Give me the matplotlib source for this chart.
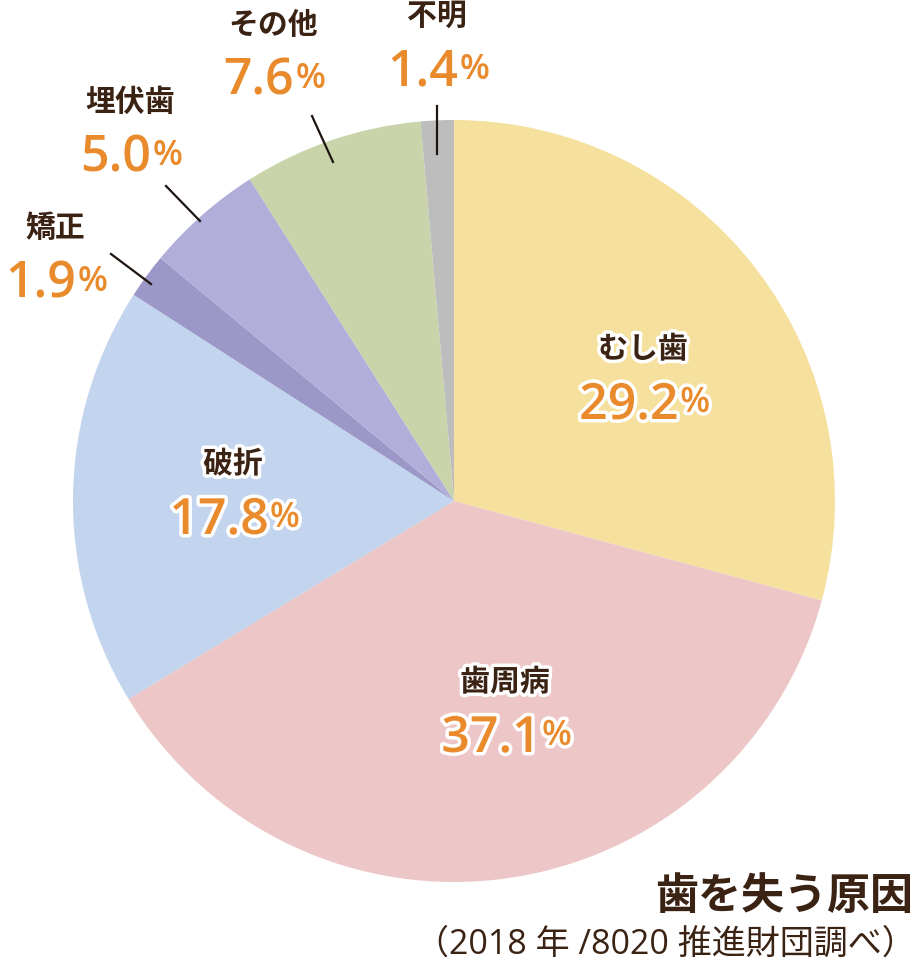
import matplotlib
matplotlib.use("Agg")
import matplotlib.pyplot as plt
import matplotlib.patheffects as pe

plt.rcParams['font.family'] = ['Noto Sans CJK JP', 'DejaVu Sans']

# data (clockwise from 12 o'clock)
labels = ["むし歯", "歯周病", "破折", "矯正", "埋伏歯", "その他", "不明"]
values = [29.2, 37.1, 17.8, 1.9, 5.0, 7.6, 1.4]
colors = ["#F5E09D", "#EDC7C7", "#C3D4EE", "#9B98C7", "#B1AFD9", "#C9D4AA", "#BDBDBD"]

# label positions in pixel coords (x, y of name; number goes below)
label_pos = [(643, 350), (505, 683), (233, 465), (55, 228), (130, 102), (273, 25), (437, 16)]
inside = [True, True, True, False, False, False, False]
# leader lines for outside labels (pixel coords)
leaders = {
    3: ((111, 255), (151, 285)),
    4: ((166, 187), (200, 222)),
    5: ((312, 117), (333, 163)),
    6: ((437, 107), (437, 155)),
}

W, H = 919, 978
BROWN = "#3B2314"
ORANGE = "#E98A2D"
NUM_FONT = ['Open Sans', 'Noto Sans CJK JP']

fig = plt.figure(figsize=(W / 100, H / 100), dpi=100)
ax = fig.add_axes([0, 0, 1, 1])


def py(y):
    return H - y


ax.pie(values, colors=colors, startangle=90, counterclock=False,
       center=(454, py(502)), radius=381, wedgeprops=dict(linewidth=0))
ax.set_xlim(0, W)
ax.set_ylim(0, H)
ax.set_aspect("equal")
ax.axis("off")

stroke = [pe.withStroke(linewidth=5, foreground="white")]

for i, (name, v) in enumerate(zip(labels, values)):
    x, y = label_pos[i]
    eff = stroke if inside[i] else None
    ax.text(x, py(y), name, ha="center", va="center", fontsize=21.5,
            fontweight="bold", color=BROWN, path_effects=eff)
    num = ax.text(x - 14, py(y + 70), f"{v:.1f}", ha="center", va="baseline",
                  fontsize=36, fontweight="semibold", family=NUM_FONT,
                  color=ORANGE, path_effects=eff)
    ax.annotate("%", xy=(1, 0), xycoords=num, xytext=(1, 8),
                textcoords="offset points", ha="left", va="bottom",
                fontsize=25, fontweight="semibold", family=NUM_FONT,
                color=ORANGE, path_effects=eff)

for (x0, y0), (x1, y1) in leaders.values():
    ax.plot([x0, x1], [py(y0), py(y1)], color="#1E1410", lw=1.6)

ax.text(913, py(896), "歯を失う原因", ha="right", va="center", fontsize=31,
        fontweight="bold", color=BROWN)
ax.text(916, py(945), "（2018 年 /8020 推進財団調べ）", ha="right", va="center",
        fontsize=24.5, family=NUM_FONT, color=BROWN)

fig.savefig("out.png", dpi=100)
